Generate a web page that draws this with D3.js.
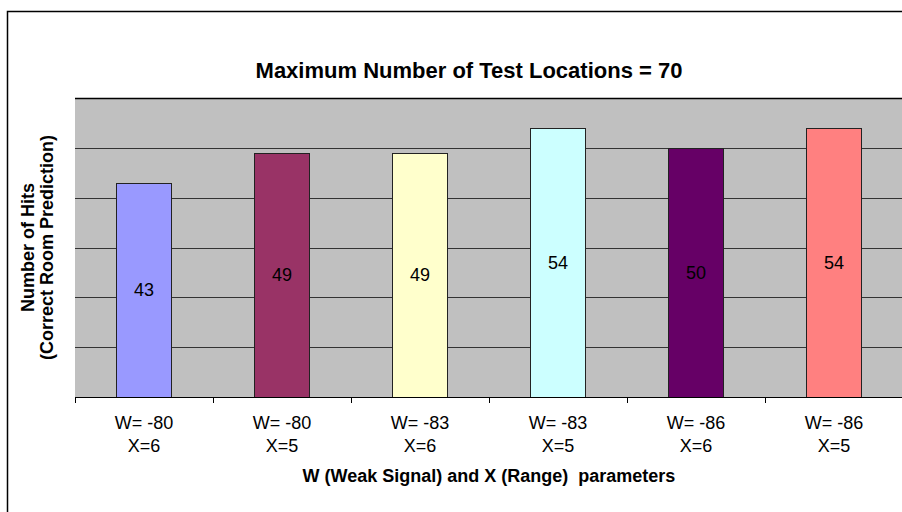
<!DOCTYPE html>
<html>
<head>
<meta charset="utf-8">
<script src="https://cdn.jsdelivr.net/npm/d3@7"></script>
<style>
  body { margin: 0; background: #fff; }
  svg { font-family: "Liberation Sans", Arial, sans-serif; }
</style>
</head>
<body>
<svg id="canvas" width="902" height="512"></svg>
<script>
let categories = ['W= -80|X=6', 'W= -80|X=5', 'W= -83|X=6', 'W= -83|X=5', 'W= -86|X=6', 'W= -86|X=5']
let hits = [43, 49, 49, 54, 50, 54]
let barColors = ['#9999ff', '#993366', '#ffffcc', '#ccffff', '#660066', '#ff8080']
let yTicks = [0, 10, 20, 30, 40, 50, 60]

let svg = d3.select('#canvas')

let plotLeft = 75
let plotRight = 903
let plotTop = 98
let plotBottom = 397

// outer chart frame, runs off the right and bottom edges
svg.append('rect')
    .attr('x', 7.5).attr('y', 11.5)
    .attr('width', 923).attr('height', 520)
    .attr('fill', 'none')
    .attr('stroke', '#000')
    .attr('stroke-width', 1.5)

let xScale = d3.scaleBand()
    .domain(categories)
    .range([plotLeft, plotRight])
    .paddingInner(0.6)
    .paddingOuter(0.3)

let yScale = d3.scaleLinear()
    .domain([0, 60])
    .range([plotBottom, plotTop])

svg.append('rect')
    .attr('x', plotLeft).attr('y', plotTop)
    .attr('width', plotRight - plotLeft).attr('height', plotBottom - plotTop)
    .attr('fill', '#c0c0c0')

// gridlines
svg.append('g')
    .selectAll('line')
    .data(yTicks.slice(1))
    .enter()
    .append('line')
    .attr('x1', plotLeft).attr('x2', plotRight)
    .attr('y1', d => Math.round(yScale(d)) + 0.5)
    .attr('y2', d => Math.round(yScale(d)) + 0.5)
    .attr('stroke', d => d === 60 ? '#000' : '#333')
    .attr('stroke-width', d => d === 60 ? 1.5 : 1)

svg.append('g')
    .selectAll('rect')
    .data(hits)
    .enter()
    .append('rect')
    .attr('x', (d, i) => Math.round(xScale(categories[i])) + 0.5)
    .attr('y', d => Math.round(yScale(d)) + 0.5)
    .attr('width', Math.round(xScale.bandwidth()))
    .attr('height', d => Math.round(yScale(0)) - Math.round(yScale(d)))
    .attr('fill', (d, i) => barColors[i])
    .attr('stroke', '#222')
    .attr('stroke-width', 1)

svg.append('g')
    .selectAll('text')
    .data(hits)
    .enter()
    .append('text')
    .attr('x', (d, i) => xScale(categories[i]) + xScale.bandwidth() / 2)
    .attr('y', d => (yScale(d) + yScale(0)) / 2 + 6.5)
    .attr('text-anchor', 'middle')
    .attr('font-size', 18)
    .attr('fill', '#000')
    .text(d => d)

// x axis with ticks between categories
let xAxis = svg.append('g')
xAxis.append('line')
    .attr('x1', plotLeft).attr('x2', plotRight)
    .attr('y1', plotBottom + 0.5).attr('y2', plotBottom + 0.5)
    .attr('stroke', '#000')
let step = xScale.step()
xAxis.selectAll('.tick')
    .data(d3.range(categories.length + 1))
    .enter()
    .append('line')
    .attr('x1', i => Math.round(plotLeft + i * step) + 0.5)
    .attr('x2', i => Math.round(plotLeft + i * step) + 0.5)
    .attr('y1', plotBottom).attr('y2', plotBottom + 6)
    .attr('stroke', '#000')

let labels = xAxis.selectAll('.lbl')
    .data(categories)
    .enter()
    .append('text')
    .attr('text-anchor', 'middle')
    .attr('font-size', 18)
    .attr('fill', '#000')
labels.each(function (d) {
    let cx = xScale(d) + xScale.bandwidth() / 2
    d.split('|').forEach((part, k) => {
        d3.select(this).append('tspan')
            .attr('x', cx)
            .attr('y', 429 + k * 23)
            .text(part)
    })
})

svg.append('text')
    .attr('x', 469).attr('y', 78)
    .attr('text-anchor', 'middle')
    .attr('font-size', 22)
    .attr('font-weight', 'bold')
    .text('Maximum Number of Test Locations = 70')

svg.append('text')
    .attr('x', (plotLeft + plotRight) / 2).attr('y', 482)
    .attr('text-anchor', 'middle')
    .attr('font-size', 18)
    .attr('font-weight', 'bold')
    .style('white-space', 'pre')
    .text('W (Weak Signal) and X (Range)  parameters')

let yTitle = svg.append('text')
    .attr('transform', `translate(0,${(plotTop + plotBottom) / 2}) rotate(-90)`)
    .attr('text-anchor', 'middle')
    .attr('font-size', 18)
    .attr('font-weight', 'bold')
yTitle.append('tspan').attr('x', 0).attr('y', 34).text('Number of Hits')
yTitle.append('tspan').attr('x', 0).attr('y', 53).text('(Correct Room Prediction)')
</script>
</body>
</html>
